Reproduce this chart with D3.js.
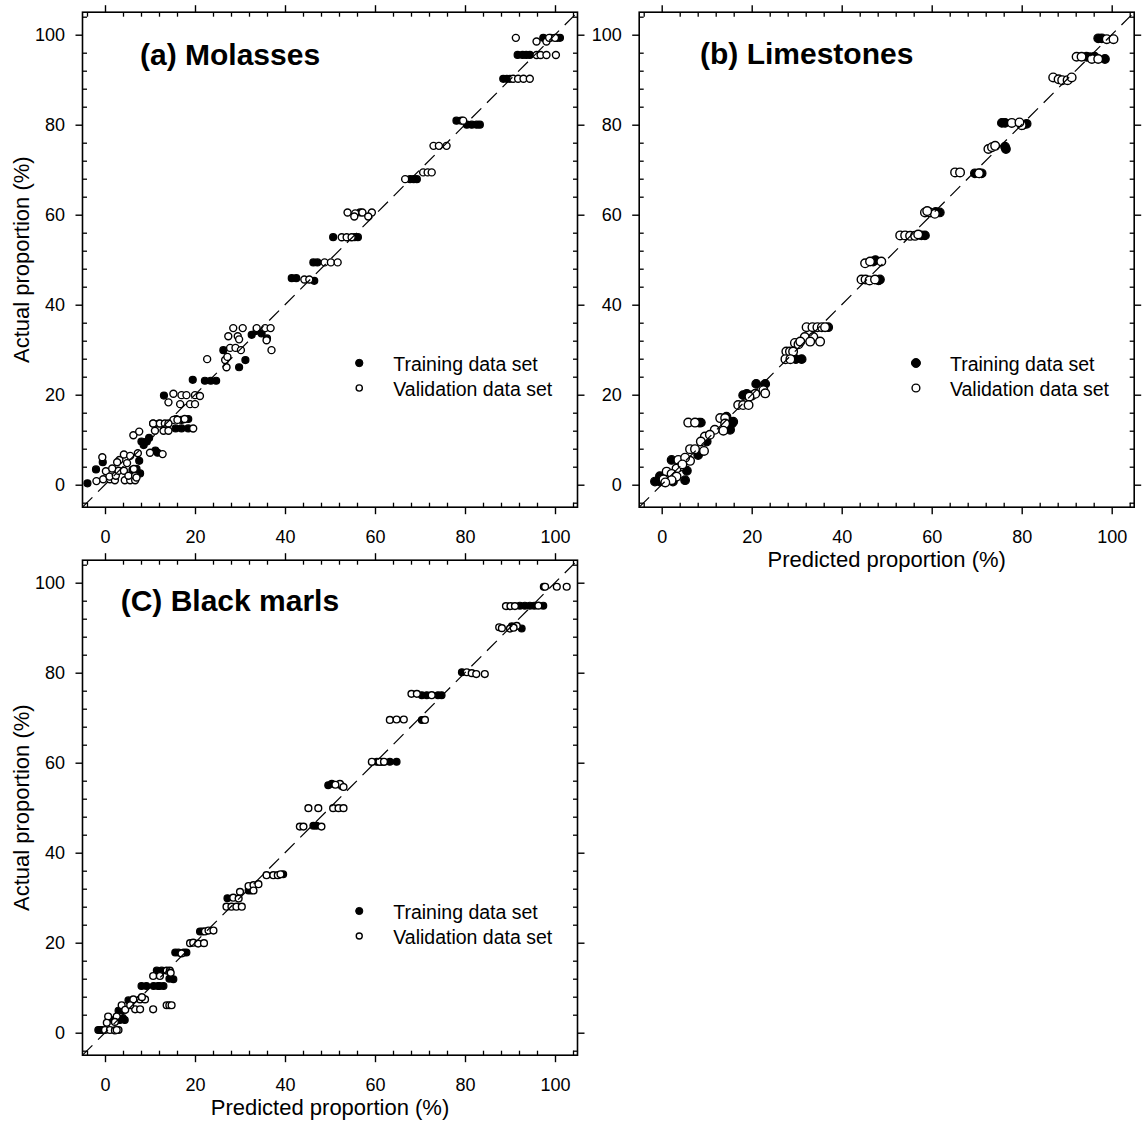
<!DOCTYPE html>
<html>
<head>
<meta charset="utf-8">
<script src="https://cdn.jsdelivr.net/npm/d3@7"></script>
<style>
  body { margin: 0; background: #fff; }
  text { font-family: Arial, "Liberation Sans", sans-serif; fill: #000; }
</style>
</head>
<body>
<div id="chart"></div>
<script>
// [predicted, actual] pairs
const molassesTraining = [
  [97.4,99.3],[99,99.3],[100.5,99.3],[101.1,99.3],
  [91.7,95.5],[92.8,95.5],[93.6,95.5],[94.4,95.5],
  [88.5,90.2],[89.3,90.2],[90,90.2],
  [78.1,80.9],[79.2,80.9],[80.4,80.0],[81.5,80.0],[82.6,80.0],[83.3,80.0],
  [67.8,67.9],[68.6,67.9],[69.3,67.9],
  [56.7,60.5],
  [50.7,55.0],[55.5,55.0],[56.2,55.0],
  [46.3,49.4],[47.2,49.4],
  [41.5,45.9],[42.5,45.9],[46.5,45.3],
  [32.6,33.3],[33.7,34.2],[34.8,33.6],[36,32.5],
  [26.3,29.9],[31.2,27.7],[29.8,26.1],
  [19.5,23.3],[22.2,23.1],[23.5,23.1],[24.7,23.1],
  [13.1,19.8],
  [15.8,14.6],[18.5,14.6],[17,14.4],
  [15.7,12.5],[17,12.5],[18.5,12.5],
  [10.7,13.6],[12,13.6],
  [8.1,9.6],[9.3,9.6],[8.6,8.8],[9.8,10.4],
  [11.2,7.6],[11.7,7.1],[7.6,5.3],
  [-3.9,0.3],[-2,3.4],[-0.5,5.0],[6.1,3.3],[7,3.5],[7.8,2.5]
];
const molassesValidation = [
  [91.3,99.3],[95.9,98.5],[98.1,98.5],[98.7,99.3],[100,99.3],
  [95.9,95.5],[96.8,95.5],[98.1,95.5],[100.2,95.5],
  [90.7,90.2],[91.8,90.2],[93,90.2],[94.4,90.2],
  [79.6,80.9],
  [73,75.3],[74.2,75.3],[75.9,75.3],
  [70.7,69.4],[71.7,69.4],[72.6,69.4],
  [66.7,67.9],
  [53.9,60.5],[55.6,60.3],[57.2,60.5],[59.3,60.5],[55.4,59.6],[58.5,59.6],
  [52.6,55.0],[53.7,55],[54.8,55],
  [48.8,49.4],[50.2,49.4],[51.7,49.4],
  [44.3,45.6],[45.4,45.6],
  [28.5,34.8],[30.6,34.8],[33.7,34.8],[35.6,34.8],[36.8,34.8],
  [27.4,33.0],[29.5,33.0],[29.8,32.3],[35.9,32.1],[37,29.9],
  [27.8,30.4],[29.0,30.4],[30.2,29.9],
  [26.7,27.7],[27.2,28.4],[27,26.1],[22.7,27.9],
  [15.2,20.2],[17,19.9],[18.1,19.9],[20,19.9],[21.1,19.7],
  [14.1,18.3],[16.7,17.9],[18.9,17.9],[20,17.9],
  [15.2,14.4],[16.1,14.4],[17.7,14.6],[19.6,12.5],
  [10.7,13.6],[12.2,13.6],[13.3,13.6],[14.1,13.6],[11.1,12],[13,12],[14.1,12],
  [6.3,11],[7.6,11.8],
  [10,7.1],[12.8,6.8],
  [-0.6,6.1],[0.2,3.0],[-1.9,0.8],[-0.4,1.2],[1.1,1.2],[2.2,1.0],[1.0,1.8],[2.4,2.0],
  [3.0,3.1],[4.2,3.1],[3.2,5.5],[4.2,6.7],[5.6,6.4],[4.4,1.0],[5.6,1.0],[6.7,1.0],
  [5.2,2.0],[6.7,2.0],[6.4,3.5],[7.3,7.0],[2.7,5.0],[1.6,3.6],[4.9,4.8],[7.0,1.6]
];

const limestoneTraining = [
  [97.0,99.2],[97.8,99.2],
  [94.4,95.1],[95.2,95.0],[98.5,94.6],[96.2,95.1],
  [75.6,80.4],[76.3,80.4],[80.2,79.9],[81.1,80.2],[76.3,75.1],[76.5,74.6],
  [69.6,69.2],[70.6,69.2],[71.1,69.2],
  [61.8,60.5],[60.9,60.6],
  [58.5,55.4],[57.7,55.4],
  [47,49.6],[47.5,49.9],[48.2,45.4],[48.5,45.6],
  [37.0,35],
  [29.8,27.9],[31.1,27.9],
  [21,22.4],[23,22.4],
  [18.1,19.9],[18.9,20.2],[19.4,19.6],
  [8.7,13.8],[8.3,13.8],
  [14.4,15.1],[15.2,13.6],[15.6,13.6],[15.2,12.2],[15.9,14],
  [10,9.6],[8.1,6.6],[2.2,5.5],[5.6,3.1],
  [-1.5,0.7],[-0.4,0.7],[0.4,0.7],[5.2,1.0],[-0.4,1.9],[2.5,0.7]
];
const limestoneValidation = [
  [98.9,99],[100.4,99],
  [92.2,95.1],[93.3,95.1],[95.6,94.6],[97,94.6],
  [87,90.5],[88.2,90.1],[89,89.9],[90.2,89.9],[91.1,90.5],
  [77.8,80.4],[80,79.9],[79.5,80.5],
  [72.6,74.6],[73.4,75],[74.1,75.3],
  [65.2,69.4],[66.3,69.4],[70.5,69.2],
  [58.5,60.5],[59.6,60.5],[60.7,60.2],[59,60.8],
  [53,55.4],[54.1,55.4],[55.2,55.3],[56.3,55.3],[57,55.6],
  [45.2,49.2],[46.3,49.6],[48.8,49.6],
  [44.4,45.6],[45.3,45.6],[46.2,45.4],[47.4,45.6],
  [32.2,35],[33.5,35],[34.6,35],[35.6,35],[36.3,35],
  [31.8,32.8],[33.7,32.8],[33,31.8],[35.2,31.8],
  [29.6,31.5],[30.4,31.2],[30.8,31.8],
  [27.7,29.6],[28.5,29.6],[29.2,29.6],
  [27.5,27.9],[28.6,27.9],
  [22.6,21],[23,20.3],
  [20,19.8],[20.8,20.2],[19.5,19.6],
  [17,17.7],[18.1,17.7],[19.3,17.7],
  [5.9,13.8],[7.4,13.8],
  [13,14.8],[14.1,14.8],[14.1,13.6],
  [11.8,12.2],[13.7,12.0],
  [9.6,10.7],[10.7,11.1],[8.7,9.6],
  [6.3,7.9],[7.4,7.9],[9.4,7.5],
  [6.3,5.3],[3.7,5.5],[5.2,6.0],
  [4.1,4.0],[3.3,3.6],[4.6,4.5],
  [1.1,2.9],[2.2,2.4],[3.3,1.8],
  [1.1,1.0],[2.2,1.0],[0.4,1.2],[0.8,0.5]
];

const marlTraining = [
  [97.5,99.1],
  [92.2,94.9],[93.3,94.9],[94.4,94.9],[95.4,94.9],[97.4,94.9],
  [90.4,90.3],[92.6,89.8],
  [79.3,80.1],
  [70.4,75],[71.5,75],[74,75],[74.8,75],
  [70.4,69.5],
  [60.4,60.2],[61.5,60.2],[63.3,60.2],[64.8,60.2],
  [49.6,55],[50.4,55.3],[52.6,54.8],
  [46.3,46],[47,46],
  [39.6,35.2],
  [31.9,31.6],[32.5,31.6],
  [27.2,29.9],
  [21.1,22.5],[21.6,22.5],
  [15.6,17.8],[16.3,17.8],[18.1,17.8],[17.5,17.8],
  [11.5,13.8],[12.6,13.8],
  [15.2,11.9],[14.3,12.0],
  [8.1,10.4],[9.2,10.4],[10.8,10.4],[12.1,10.4],[13,10.4],[11.8,10.4],
  [5.2,7.2],
  [3,4.9],[4.1,4.9],
  [1.9,2.8],[4.4,2.8],[3.3,2.8],[4,3.2],
  [-1.5,0.6],[-0.7,0.6],[-1.1,0.6]
];
const marlValidation = [
  [97.8,99.1],[100.4,99.1],[102.6,99.1],
  [89.1,94.8],[90.1,94.8],[91.1,94.8],[96.3,94.9],
  [87.6,90.1],[88.2,89.9],[90,89.8],[91.5,90.4],[90.8,90.0],
  [80.4,80.1],[81.5,79.9],[82.5,79.7],[84.4,79.7],
  [68.1,75.3],[69.3,75.3],[72.6,75],
  [63.3,69.5],[64.8,69.6],[66.4,69.6],[71.1,69.5],
  [59.3,60.2],[61,60.2],[62,60.2],
  [52.2,55.3],[53,54.6],[51.2,55.1],
  [45.2,49.9],[47.4,49.9],[50.7,49.9],[51.9,49.9],[53,49.9],
  [43.3,45.8],[44.1,45.8],[48.1,45.8],
  [35.9,35],[37.4,35],[38.4,35],[39,35.2],
  [31.9,32.6],[33.0,32.8],[34.1,33],
  [30,31.3],[33,31.6],
  [28.5,30],[29.7,29.8],
  [27,28],[28.1,28],[29.2,28],[30.4,28],
  [22.2,22.5],[23,22.7],[24.1,22.7],
  [18.9,19.9],[19.6,20],[20.7,19.8],[22,19.9],
  [17,17.6],
  [13.7,13.8],[14.4,13.8],[14.6,13.3],
  [10.7,12.6],[12.2,12.6],
  [6.3,7.4],[7.8,7.4],[8.9,7.4],[8.2,7.9],
  [6.7,5.2],[7.8,5.2],[10.7,5.2],
  [13.7,6.1],[14.3,6.1],[14.8,6.1],
  [3.7,6.1],[4.5,5.1],[5.6,6.1],
  [0.7,3.6],[2.6,3.6],
  [0,0.6],[1.1,0.6],[2.2,0.5],[3,0.6],[2.6,0.6],
  [0.4,2.2],[2.2,2.4]
];

const axisDomain = [-5, 105];
const majorTicks = [0, 20, 40, 60, 80, 100];
const minorTicks = [-4,4,8,12,16,24,28,32,36,44,48,52,56,64,68,72,76,84,88,92,96,104];
const legendLabels = ["Training data set", "Validation data set"];

let panels = [
  { title: "(a) Molasses", left: 82.5, top: 12.2, tx: 57.5, ty: 52.8, r: 3.5,
    train: molassesTraining, valid: molassesValidation, xTitle: false, yTitle: true },
  { title: "(b) Limestones", left: 639.2, top: 12.2, tx: 60.8, ty: 51.5, r: 4.3,
    train: limestoneTraining, valid: limestoneValidation, xTitle: true, yTitle: false },
  { title: "(C) Black marls", left: 82.5, top: 560.2, tx: 38.2, ty: 50.5, r: 3.4,
    train: marlTraining, valid: marlValidation, xTitle: true, yTitle: true }
];

let size = 495;
let svg = d3.select("#chart").append("svg")
    .attr("width", 1142)
    .attr("height", 1124);

svg.append("rect").attr("width", 1142).attr("height", 1124).attr("fill", "#fff");

panels.forEach(p => {
    let g = svg.append("g").attr("transform", `translate(${p.left},${p.top})`);
    let x = d3.scaleLinear().domain(axisDomain).range([0, size]);
    let y = d3.scaleLinear().domain(axisDomain).range([size, 0]);

    // training first, validation drawn over it
    g.append("g").selectAll("circle").data(p.train).enter()
        .append("circle")
        .attr("cx", d => x(d[0])).attr("cy", d => y(d[1]))
        .attr("r", p.r)
        .attr("fill", "#000").attr("stroke", "#000").attr("stroke-width", 1.2);

    g.append("g").selectAll("circle").data(p.valid).enter()
        .append("circle")
        .attr("cx", d => x(d[0])).attr("cy", d => y(d[1]))
        .attr("r", p.r)
        .attr("fill", "#fff").attr("stroke", "#000").attr("stroke-width", 1.4);

    // 1:1 line
    g.append("line")
        .attr("x1", x(axisDomain[0])).attr("y1", y(axisDomain[0]))
        .attr("x2", x(axisDomain[1])).attr("y2", y(axisDomain[1]))
        .attr("stroke", "#000").attr("stroke-width", 1.2)
        .style("stroke-dasharray", "14,8");

    // major ticks outward, minor ticks inward, on all four sides
    let sides = [
        { make: () => d3.axisBottom(x), t: `translate(0,${size})`, labels: true, pad: 16 },
        { make: () => d3.axisTop(x), t: null, labels: false, pad: 0 },
        { make: () => d3.axisLeft(y), t: null, labels: true, pad: 10.5 },
        { make: () => d3.axisRight(y), t: `translate(${size},0)`, labels: false, pad: 0 }
    ];
    sides.forEach(s => {
        let mg = g.append("g");
        if (s.t) mg.attr("transform", s.t);
        mg.call(s.make().tickValues(majorTicks).tickSizeInner(7).tickSizeOuter(0)
            .tickPadding(s.pad)
            .tickFormat(s.labels ? d3.format("d") : ""));
        mg.select(".domain").remove();
        mg.selectAll("line").attr("stroke", "#000").attr("stroke-width", 1.4);
        mg.selectAll("text").attr("font-size", 18).attr("fill", "#000");

        let ng = g.append("g");
        if (s.t) ng.attr("transform", s.t);
        ng.call(s.make().tickValues(minorTicks).tickSizeInner(-4.5).tickSizeOuter(0).tickFormat(""));
        ng.select(".domain").remove();
        ng.selectAll("line").attr("stroke", "#000").attr("stroke-width", 1.3);
    });

    // frame
    g.append("rect")
        .attr("x", 0).attr("y", 0).attr("width", size).attr("height", size)
        .attr("fill", "none").attr("stroke", "#000").attr("stroke-width", 1.6);

    g.append("text")
        .attr("x", p.tx).attr("y", p.ty)
        .attr("font-size", 30).attr("font-weight", "bold")
        .text(p.title);

    // legend
    let lx = x(56.5), ly = [350.8, 375.8];
    g.append("circle").attr("cx", lx).attr("cy", ly[0]).attr("r", p.r + 0.2)
        .attr("fill", "#000").attr("stroke", "#000");
    g.append("circle").attr("cx", lx).attr("cy", ly[1]).attr("r", p.r - 0.4)
        .attr("fill", "#fff").attr("stroke", "#000").attr("stroke-width", 1.4);
    legendLabels.forEach((t, i) => {
        g.append("text")
            .attr("x", lx + 34).attr("y", ly[i] + 8)
            .attr("font-size", 19.5)
            .text(t);
    });

    if (p.xTitle) {
        g.append("text")
            .attr("text-anchor", "middle")
            .attr("x", size / 2).attr("y", size + 60)
            .attr("font-size", 22)
            .text("Predicted proportion (%)");
    }
    if (p.yTitle) {
        g.append("text")
            .attr("text-anchor", "middle")
            .attr("transform", "rotate(-90)")
            .attr("x", -size / 2).attr("y", 29 - p.left)
            .attr("font-size", 22)
            .text("Actual proportion (%)");
    }
});
</script>
</body>
</html>
